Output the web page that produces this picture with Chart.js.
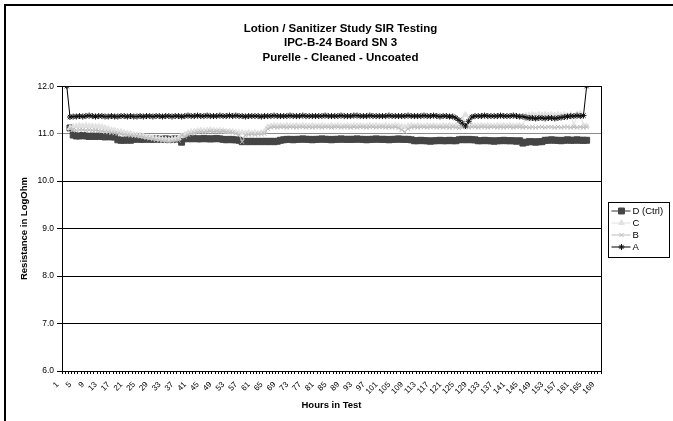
<!DOCTYPE html>
<html>
<head>
<meta charset="utf-8">
<script src="https://cdn.jsdelivr.net/npm/chart.js"></script>
<style>
html,body{margin:0;padding:0;background:#fff;}
#wrap{position:relative;width:673px;height:421px;}
</style>
</head>
<body>
<div id="wrap"><canvas id="c" width="673" height="421"></canvas></div>
<script>
// ---- data ----
const hours = Array.from({length: 169}, (_, i) => String(i + 1));
const titleLines = ['Lotion / Sanitizer Study SIR Testing', 'IPC-B-24 Board SN 3', 'Purelle - Cleaned - Uncoated'];
const yTickMin = 6.0;
const yTickMax = 12.0;
const yTickStep = 1.0;
const seriesNames = ['A', 'B', 'C', 'D (Ctrl)'];

const seriesA = [
  null, 12.00, 11.35, 11.36, 11.36, 11.37, 11.36, 11.37, 11.38, 11.37,
  11.36, 11.37, 11.37, 11.36, 11.36, 11.37, 11.36, 11.36, 11.37, 11.37,
  11.36, 11.37, 11.36, 11.36, 11.37, 11.36, 11.37, 11.37, 11.36, 11.37,
  11.37, 11.36, 11.37, 11.37, 11.36, 11.37, 11.37, 11.36, 11.37, 11.38,
  11.37, 11.37, 11.38, 11.37, 11.37, 11.38, 11.37, 11.37, 11.37, 11.38,
  11.37, 11.37, 11.38, 11.37, 11.38, 11.37, 11.37, 11.36, 11.37, 11.37,
  11.37, 11.37, 11.36, 11.37, 11.37, 11.37, 11.38, 11.37, 11.37, 11.37,
  11.37, 11.38, 11.37, 11.37, 11.37, 11.38, 11.37, 11.37, 11.37, 11.37,
  11.37, 11.37, 11.38, 11.37, 11.37, 11.37, 11.37, 11.38, 11.37, 11.37,
  11.37, 11.38, 11.38, 11.37, 11.37, 11.37, 11.38, 11.37, 11.37, 11.37,
  11.37, 11.37, 11.38, 11.37, 11.37, 11.37, 11.37, 11.37, 11.38, 11.37,
  11.37, 11.37, 11.37, 11.38, 11.37, 11.37, 11.38, 11.37, 11.36, 11.37,
  11.37, 11.36, 11.36, 11.33, 11.28, 11.22, 11.16, 11.26, 11.35, 11.37,
  11.37, 11.37, 11.38, 11.37, 11.37, 11.37, 11.37, 11.38, 11.37, 11.37,
  11.37, 11.38, 11.37, 11.36, 11.36, 11.34, 11.33, 11.33, 11.32, 11.33,
  11.33, 11.32, 11.33, 11.33, 11.32, 11.33, 11.34, 11.35, 11.36, 11.37,
  11.37, 11.38, 11.37, 11.38, 12.00, null, null, null, null
];
const seriesB = [
  null, null, 11.10, 11.08, 11.07, 11.08, 11.08, 11.07, 11.08, 11.07,
  11.07, 11.06, 11.05, 11.04, 11.03, 11.02, 11.01, 11.00, 10.99, 10.98,
  10.97, 10.96, 10.95, 10.95, 10.94, 10.93, 10.91, 10.90, 10.88, 10.87,
  10.86, 10.85, 10.84, 10.83, 10.84, 10.85, 10.86, 10.97, 10.94, 10.98,
  11.00, 11.01, 11.03, 11.04, 11.03, 11.04, 11.05, 11.04, 11.05, 11.04,
  11.05, 11.04, 11.03, 11.02, 11.00, 10.98, 10.83, 10.97, 10.98, 10.99,
  10.98, 10.99, 10.99, 11.00, 11.10, 11.13, 11.14, 11.13, 11.14, 11.14,
  11.13, 11.14, 11.14, 11.13, 11.14, 11.14, 11.13, 11.14, 11.13, 11.14,
  11.14, 11.13, 11.14, 11.14, 11.13, 11.14, 11.14, 11.13, 11.14, 11.14,
  11.13, 11.14, 11.13, 11.14, 11.14, 11.13, 11.14, 11.14, 11.13, 11.14,
  11.14, 11.13, 11.14, 11.13, 11.14, 11.12, 11.08, 11.04, 11.10, 11.13,
  11.14, 11.13, 11.14, 11.14, 11.13, 11.14, 11.14, 11.13, 11.14, 11.13,
  11.14, 11.13, 11.14, 11.13, 11.12, 11.13, 11.14, 11.13, 11.14, 11.14,
  11.13, 11.14, 11.14, 11.13, 11.14, 11.14, 11.13, 11.14, 11.13, 11.14,
  11.14, 11.13, 11.14, 11.14, 11.13, 11.14, 11.13, 11.14, 11.13, 11.14,
  11.14, 11.13, 11.14, 11.14, 11.13, 11.14, 11.13, 11.14, 11.14, 11.13,
  11.14, 11.13, 11.14, 11.13, 11.14, null, null, null, null
];
const seriesC = [
  null, null, 11.12, 11.15, 11.16, 11.17, 11.16, 11.17, 11.16, 11.16,
  11.15, 11.15, 11.14, 11.12, 11.10, 11.08, 11.07, 11.05, 11.04, 11.02,
  11.01, 11.00, 10.98, 10.97, 10.96, 10.95, 10.93, 10.92, 10.91, 10.90,
  10.89, 10.88, 10.88, 10.87, 10.88, 10.89, 10.90, 10.95, 10.98, 11.02,
  11.04, 11.05, 11.06, 11.07, 11.06, 11.07, 11.08, 11.07, 11.06, 11.07,
  11.06, 11.05, 11.05, 11.04, 11.03, 11.02, 11.02, 11.01, 11.02, 11.01,
  11.02, 11.01, 11.02, 11.05, 11.14, 11.16, 11.17, 11.16, 11.17, 11.16,
  11.17, 11.16, 11.16, 11.17, 11.16, 11.17, 11.16, 11.16, 11.17, 11.16,
  11.16, 11.17, 11.16, 11.16, 11.17, 11.16, 11.17, 11.16, 11.16, 11.17,
  11.16, 11.17, 11.16, 11.17, 11.16, 11.16, 11.17, 11.16, 11.17, 11.16,
  11.16, 11.17, 11.16, 11.16, 11.17, 11.16, 11.15, 11.14, 11.16, 11.17,
  11.16, 11.17, 11.16, 11.16, 11.17, 11.16, 11.17, 11.16, 11.16, 11.17,
  11.16, 11.17, 11.16, 11.17, 11.16, 11.30, 11.40, 11.30, 11.17, 11.16,
  11.16, 11.17, 11.16, 11.17, 11.16, 11.16, 11.17, 11.16, 11.17, 11.16,
  11.17, 11.16, 11.16, 11.17, 11.16, 11.38, 11.39, 11.40, 11.39, 11.40,
  11.39, 11.40, 11.39, 11.40, 11.39, 11.40, 11.39, 11.40, 11.39, 11.40,
  11.17, 11.41, 11.42, 11.17, 11.16, null, null, null, null
];
const seriesD = [
  null, null, 11.12, 10.97, 10.95, 10.95, 10.96, 10.95, 10.94, 10.95,
  10.94, 10.95, 10.94, 10.93, 10.94, 10.93, 10.93, 10.87, 10.86, 10.86,
  10.87, 10.86, 10.88, 10.89, 10.88, 10.88, 10.89, 10.88, 10.88, 10.89,
  10.88, 10.88, 10.89, 10.88, 10.88, 10.89, 10.88, 10.82, 10.89, 10.90,
  10.89, 10.90, 10.89, 10.89, 10.90, 10.89, 10.89, 10.89, 10.90, 10.89,
  10.88, 10.87, 10.88, 10.87, 10.87, 10.86, 10.83, 10.84, 10.83, 10.84,
  10.83, 10.84, 10.83, 10.84, 10.83, 10.84, 10.83, 10.84, 10.86, 10.87,
  10.88, 10.88, 10.87, 10.88, 10.88, 10.89, 10.88, 10.88, 10.87, 10.88,
  10.88, 10.89, 10.88, 10.88, 10.87, 10.88, 10.88, 10.89, 10.88, 10.88,
  10.88, 10.88, 10.89, 10.88, 10.88, 10.87, 10.88, 10.88, 10.89, 10.88,
  10.88, 10.88, 10.87, 10.88, 10.88, 10.89, 10.88, 10.88, 10.88, 10.87,
  10.85, 10.85, 10.86, 10.85, 10.85, 10.84, 10.85, 10.85, 10.86, 10.85,
  10.85, 10.86, 10.85, 10.85, 10.87, 10.88, 10.87, 10.88, 10.87, 10.87,
  10.85, 10.85, 10.86, 10.85, 10.85, 10.84, 10.85, 10.85, 10.86, 10.85,
  10.85, 10.85, 10.84, 10.85, 10.80, 10.82, 10.83, 10.83, 10.82, 10.83,
  10.83, 10.86, 10.86, 10.87, 10.86, 10.86, 10.85, 10.86, 10.87, 10.86,
  10.86, 10.87, 10.86, 10.86, 10.86, null, null, null, null
];

// ---- chart ----
const FONT = '"Liberation Sans", Arial, Helvetica, sans-serif';
Chart.defaults.font.family = FONT;
Chart.defaults.color = '#000';

const frame = {
  id: 'frame',
  beforeDraw(chart) {
    const c = chart.ctx;
    c.save();
    c.fillStyle = '#fff';
    c.fillRect(0, 0, chart.width, chart.height);
    c.fillStyle = '#000';
    c.fillRect(4, 4, 2, chart.height - 4);
    c.fillRect(4, 4, chart.width - 4, 2);
    c.restore();
  }
};

const boxLegend = {
  id: 'boxLegend',
  afterDraw(chart) {
    const c = chart.ctx;
    const area = chart.chartArea;
    const bx = Math.round(area.right) + 7.5, by = 202.5, bw = 61, bh = 55;
    c.save();
    c.strokeStyle = '#000';
    c.lineWidth = 1;
    c.strokeRect(bx, by, bw, bh);
    const order = [3, 2, 1, 0];
    order.forEach((di, k) => {
      const ds = chart.data.datasets[di];
      const y = by + 8.5 + k * 12;
      c.strokeStyle = ds.borderColor;
      c.lineWidth = 1;
      c.beginPath();
      c.moveTo(bx + 3, y);
      c.lineTo(bx + 22, y);
      c.stroke();
      c.fillStyle = ds.pointBackgroundColor;
      c.strokeStyle = ds.pointBorderColor;
      c.lineWidth = ds.pointBorderWidth;
      if (Chart.helpers && Chart.helpers.drawPoint) {
        Chart.helpers.drawPoint(c, {pointStyle: ds.pointStyle, radius: ds.pointRadius, borderWidth: ds.pointBorderWidth, rotation: 0}, bx + 13, y);
      }
      c.fillStyle = '#000';
      c.font = '9.5px ' + FONT;
      c.textBaseline = 'middle';
      c.textAlign = 'left';
      c.fillText(ds.label, bx + 24, y + 0.5);
    });
    c.restore();
  }
};

new Chart(document.getElementById('c'), {
  type: 'line',
  data: {
    labels: hours,
    datasets: [
      {label: seriesNames[0], data: seriesA, borderColor: '#000', borderWidth: 1,
       pointStyle: 'star', pointRadius: 3, pointBorderWidth: 1, pointBorderColor: '#111', pointBackgroundColor: '#111'},
      {label: seriesNames[1], data: seriesB, borderColor: '#bdbdbd', borderWidth: 1,
       pointStyle: 'crossRot', pointRadius: 3, pointBorderWidth: 1, pointBorderColor: '#bdbdbd', pointBackgroundColor: '#bdbdbd'},
      {label: seriesNames[2], data: seriesC, borderColor: '#e2e2e2', borderWidth: 1,
       pointStyle: 'triangle', pointRadius: 3.2, pointBorderWidth: 1, pointBorderColor: '#e2e2e2', pointBackgroundColor: '#e2e2e2'},
      {label: seriesNames[3], data: seriesD, borderColor: '#333', borderWidth: 1,
       pointStyle: 'rect', pointRadius: 4.2, pointBorderWidth: 1, pointBorderColor: '#454545', pointBackgroundColor: '#454545'}
    ]
  },
  options: {
    responsive: false,
    animation: false,
    devicePixelRatio: 1,
    layout: {padding: {left: 8, right: 0, top: 0, bottom: 0}},
    elements: {line: {tension: 0}},
    plugins: {
      legend: {display: false},
      tooltip: {enabled: false},
      title: {
        display: true,
        text: titleLines,
        color: '#000',
        font: {family: FONT, size: 11.5, weight: 'bold', lineHeight: 1.28},
        padding: {top: 21, bottom: 21}
      }
    },
    scales: {
      x: {
        type: 'category',
        offset: true,
        grid: {display: true, offset: true, drawOnChartArea: false, drawTicks: true, tickLength: 3, color: '#000'},
        border: {display: true, color: '#000', width: 1},
        ticks: {
          autoSkip: false, maxRotation: 45, minRotation: 45, padding: 6, labelOffset: -6,
          font: {size: 8}, color: '#000',
          callback: (v, i) => (i % 4 === 0 ? hours[i] : '')
        },
        title: {display: true, text: 'Hours in Test', color: '#000', font: {size: 9.5, weight: 'bold'}, padding: {top: 0, bottom: 10}},
        afterFit: s => { s.height = 50; }
      },
      y: {
        min: yTickMin, max: yTickMax,
        ticks: {stepSize: yTickStep, callback: v => Number(v).toFixed(1), padding: 3, font: {size: 8.5}, color: '#000'},
        grid: {color: c => (c.tick && c.tick.value === 11 ? '#8a8a8a' : '#000'), tickLength: 5},
        border: {display: true, color: '#000', width: 1},
        title: {display: true, text: 'Resistance in LogOhm', color: '#000', font: {size: 9.5, weight: 'bold'}, padding: {top: 11, bottom: 0}},
        afterFit: s => { s.width = 54; }
      },
      yRight: {
        position: 'right',
        display: true,
        grid: {display: false},
        ticks: {display: false},
        border: {display: true, color: '#000', width: 1},
        afterFit: s => { s.width = 72; }
      }
    }
  },
  plugins: [frame, boxLegend]
});
</script>
</body>
</html>
